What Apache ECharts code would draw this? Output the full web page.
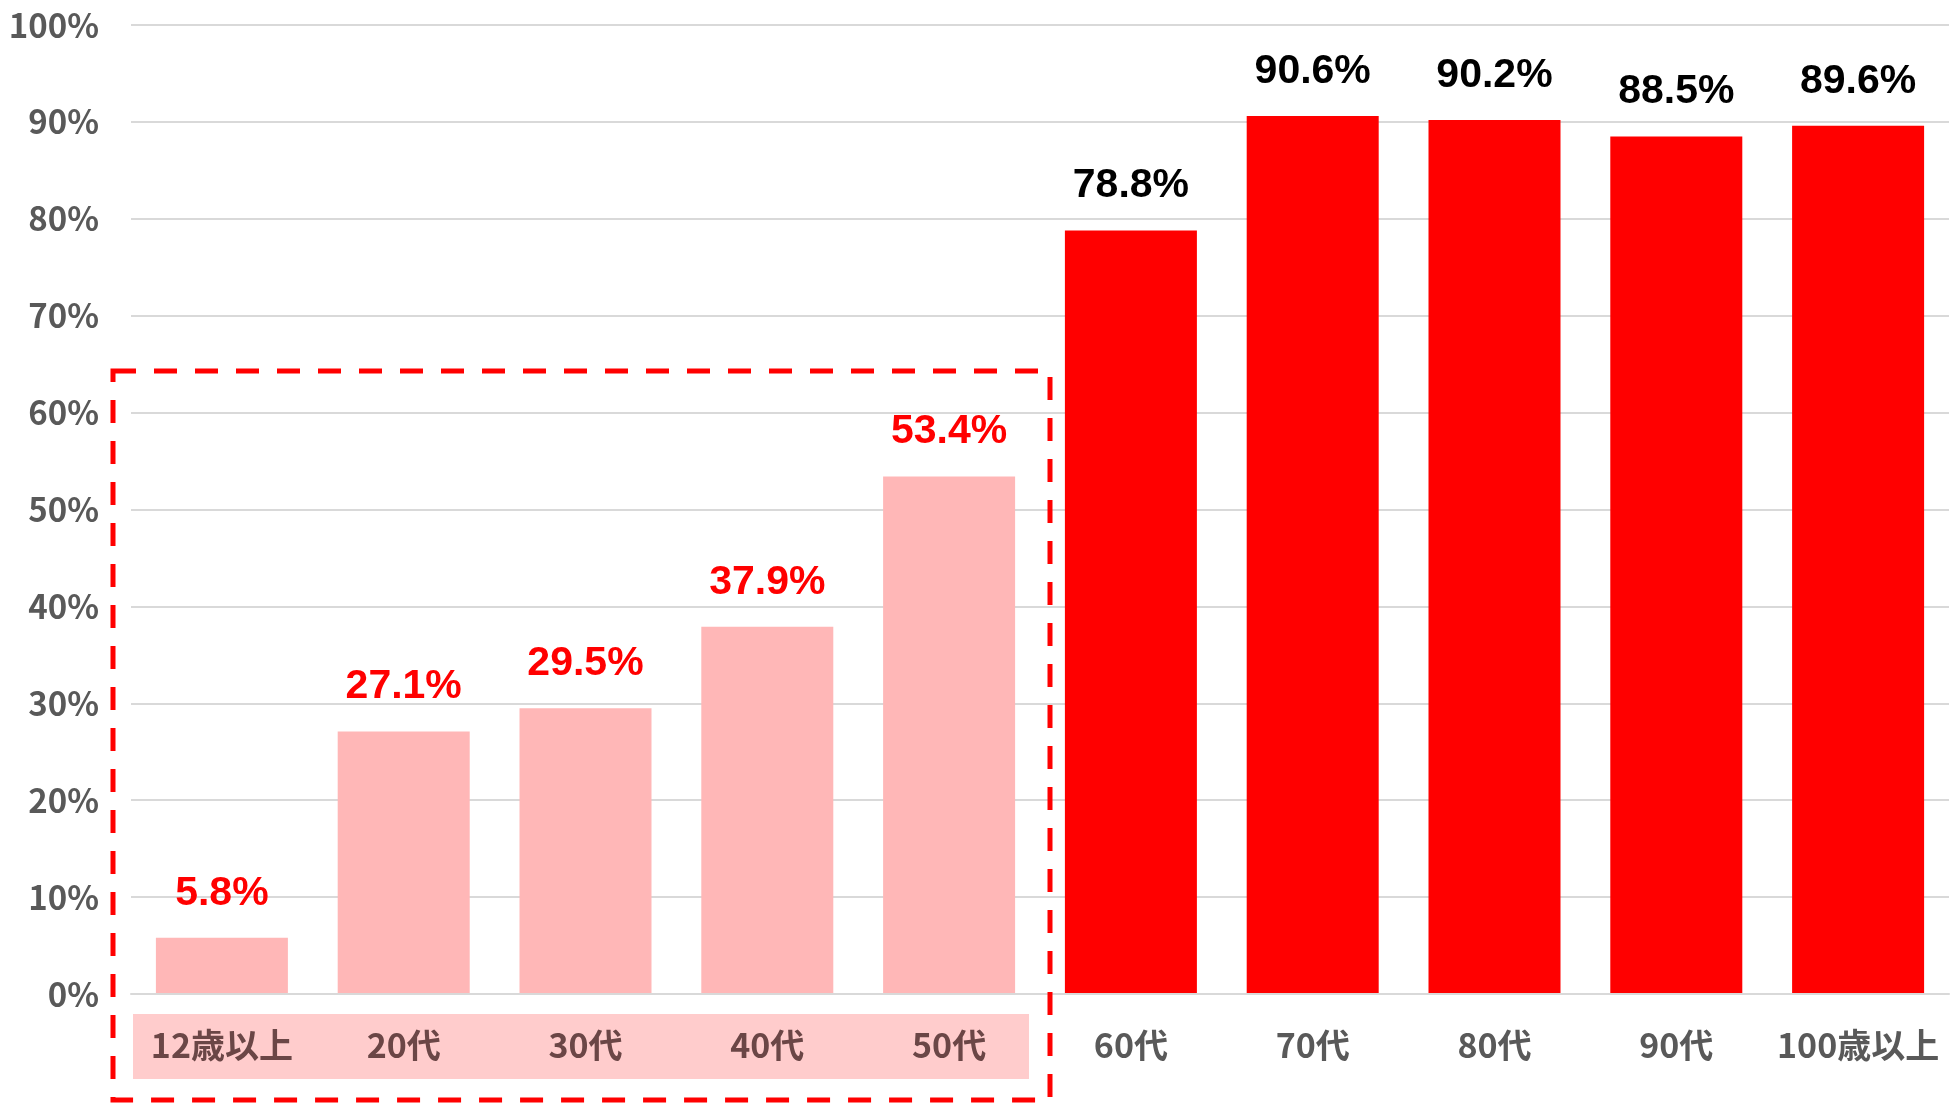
<!DOCTYPE html>
<html lang="ja">
<head>
  <meta charset="UTF-8">
  <title>年代別 接種率</title>
  <style>
    #container, html, body {
      margin: 0;
      padding: 0;
      height: 100%;
      width: 100%;
      background: #fff;
    }
  </style>
</head>
<body>
  <div id="container"></div>
</body>
<script src="https://cdn.jsdelivr.net/npm/echarts@6/dist/echarts.min.js"></script>
<script>
  // 年代
  var categories = ['12歳以上', '20代', '30代', '40代', '50代', '60代', '70代', '80代', '90代', '100歳以上']
  // 割合 (%)
  var rates = [5.8, 27.1, 29.5, 37.9, 53.4, 78.8, 90.6, 90.2, 88.5, 89.6]
  // 強調する若い世代の数 (先頭から)
  var youngCount = 5
  // y軸
  var yMin = 0
  var yMax = 100
  var yStep = 10
  // 点線枠の上端 (%)
  var boxTopValue = 64.3

  var axisFont = '"Noto Sans CJK JP", "Noto Sans", sans-serif'
  var valueFont = '"Liberation Sans", Arial, sans-serif'

  window.onload = function () {
    var chart = echarts.init(document.querySelector('#container'))

    var barData = rates.map(function (v, i) {
      var young = i < youngCount
      return {
        value: v,
        itemStyle: { color: young ? '#ffb7b7' : '#ff0000' },
        label: { color: young ? '#ff0000' : '#000000' }
      }
    })

    var catData = categories.map(function (c, i) {
      return {
        value: c,
        textStyle: { color: i < youngCount ? '#6b4646' : '#595959' }
      }
    })

    var option = {
      animation: false,
      grid: { left: 131, right: 4, top: 25, bottom: 110 },
      xAxis: {
        type: 'category',
        data: catData,
        axisLine: { lineStyle: { color: '#d9d9d9', width: 2 } },
        axisTick: { show: false },
        axisLabel: {
          interval: 0,
          margin: 34,
          fontSize: 34,
          fontWeight: 'bold',
          fontFamily: axisFont
        },
        z: 5
      },
      yAxis: {
        type: 'value',
        min: yMin,
        max: yMax,
        interval: yStep,
        axisLine: { show: false },
        axisTick: { show: false },
        splitLine: { lineStyle: { color: '#d9d9d9', width: 2 } },
        axisLabel: {
          formatter: '{value}%',
          margin: 32,
          fontSize: 33,
          fontWeight: 'bold',
          fontFamily: axisFont,
          color: '#595959'
        }
      },
      series: [{
        type: 'bar',
        data: barData,
        barWidth: 132,
        label: {
          show: true,
          position: 'top',
          distance: 24,
          fontSize: 41,
          fontWeight: 'bold',
          fontFamily: valueFont,
          formatter: function (p) { return p.value.toFixed(1) + '%' }
        }
      }]
    }
    chart.setOption(option)

    // 枠と背景は軸の座標から求める
    var p0 = chart.convertToPixel({ gridIndex: 0 }, [0, 0])
    var p1 = chart.convertToPixel({ gridIndex: 0 }, [1, 0])
    var step = p1[0] - p0[0]
    var gridLeft = p0[0] - step / 2
    var splitX = chart.convertToPixel({ gridIndex: 0 }, [youngCount - 1, 0])[0] + step / 2
    var axisY = p0[1]
    var boxTop = chart.convertToPixel({ gridIndex: 0 }, [0, boxTopValue])[1]

    chart.setOption({
      graphic: [
        {
          type: 'rect',
          z: 1,
          silent: true,
          shape: { x: gridLeft + 2, y: axisY + 20, width: splitX - 11 - gridLeft - 2, height: 65 },
          style: { fill: '#ffcccc' }
        },
        {
          type: 'rect',
          z: 100,
          silent: true,
          shape: { x: gridLeft - 18, y: boxTop, width: splitX + 10 - (gridLeft - 18), height: 1100 - boxTop },
          style: { fill: null, stroke: '#ff0000', lineWidth: 5, lineDash: [23, 18] }
        }
      ]
    })

    window.onresize = chart.resize
  }
</script>
</html>
